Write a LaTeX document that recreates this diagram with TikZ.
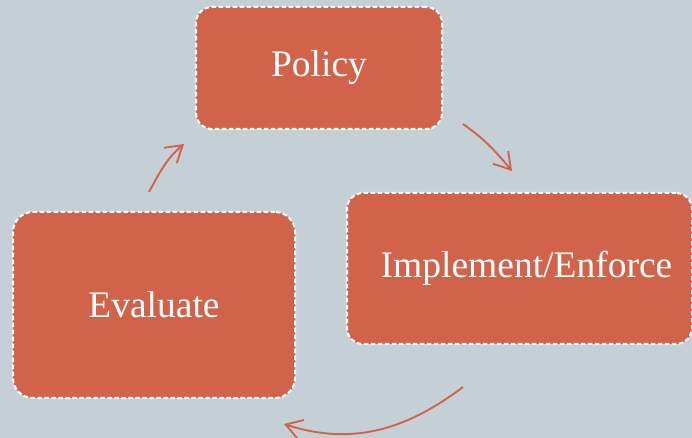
\documentclass[tikz,border=0pt]{standalone}
\usepackage{fontspec}
\setmainfont{Liberation Serif}
\usetikzlibrary{arrows.meta,calc}
\definecolor{bgcol}{RGB}{197,208,214}
\definecolor{boxcol}{RGB}{209,99,74}
\tikzset{
  cyclebox/.style={draw=white, fill=boxcol, line width=2pt,
    dash pattern=on 4.5pt off 2.5pt, rounded corners=#1, inner sep=0pt,
    text=white, font=\fontsize{37.5}{42}\selectfont},
  cyclebox/.default=16pt,
  cyclearrow/.style={draw=boxcol, line width=1.9pt,
    -{Straight Barb[length=16pt,width=20pt,line width=1.9pt]}}
}
\begin{document}
\begin{tikzpicture}[x=1pt,y=1pt]
\useasboundingbox (0,0) rectangle (692,438);
\clip (0,0) rectangle (692,438);
\fill[bgcol] (0,0) rectangle (692,438);

\node[cyclebox, minimum width=246pt, minimum height=122pt] (policy) at (319,370) {Policy};
\node[cyclebox, minimum width=345pt, minimum height=151pt] (impl) at (519.5,169.5) {\hspace*{14pt}Implement/Enforce};
\node[cyclebox=20pt, minimum width=282pt, minimum height=186pt] (eval) at (154,133) {Evaluate};

\coordinate (a1s) at ($(policy.south east)+(20,6)$);
\coordinate (a1e) at ($(impl.north west)+(166,21)$);
\coordinate (a2s) at ($(impl.south west)+(117,-42)$);
\coordinate (a2e) at ($(eval.south east)+(-12,-25)$);
\coordinate (a3s) at ($(eval.north)+(-5,19)$);
\coordinate (a3e) at ($(policy.south west)+(-11,-14)$);

\draw[cyclearrow] (a1s) to[out=-35,in=130] (a1e);
\draw[cyclearrow] (a2s) to[out=217,in=-18] (a2e);
\draw[cyclearrow] (a3s) to[out=61,in=220] (a3e);
\end{tikzpicture}
\end{document}
